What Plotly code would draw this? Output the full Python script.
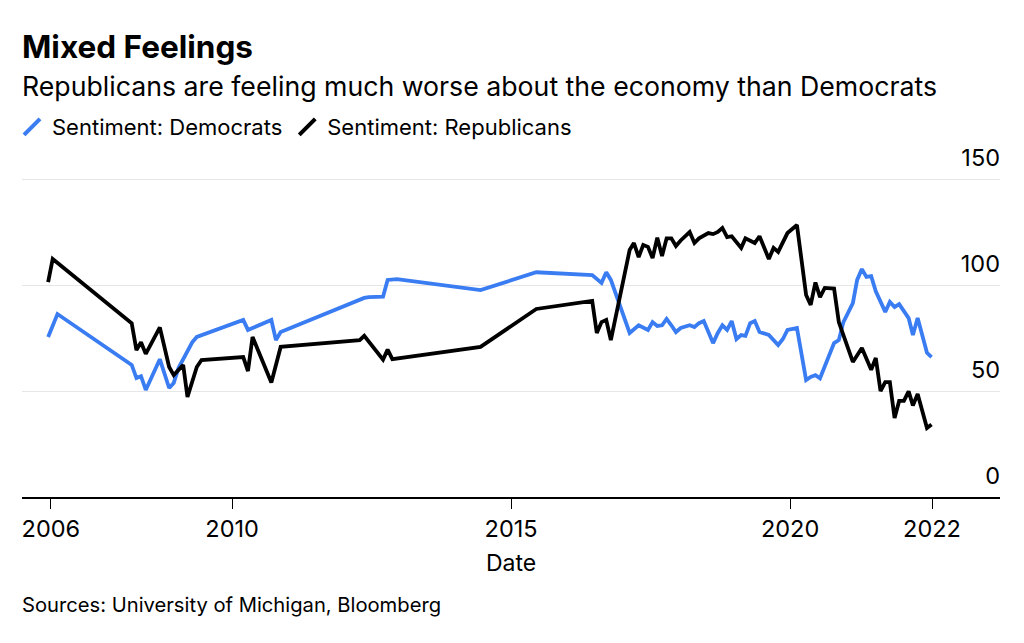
import plotly.graph_objects as go

# ---------------- data ----------------
dem_dates = [
    "2006-09-15", "2006-11-15", "2008-03-15", "2008-04-15", "2008-05-15", "2008-06-15",
    "2008-09-15", "2008-11-15", "2008-12-15", "2009-01-15", "2009-04-15", "2009-05-15",
    "2010-03-15", "2010-04-15", "2010-05-15", "2010-09-15", "2010-10-15", "2010-11-15",
    "2012-05-15", "2012-06-15", "2012-09-15", "2012-10-15", "2012-12-15", "2013-05-15",
    "2014-06-15", "2015-06-15", "2016-06-15", "2016-08-15", "2016-09-15", "2016-10-15",
    "2017-02-15", "2017-04-15", "2017-05-15", "2017-06-15", "2017-07-15", "2017-08-15",
    "2017-09-15", "2017-10-15", "2017-11-15", "2017-12-15", "2018-01-15", "2018-03-15",
    "2018-04-15", "2018-05-15", "2018-06-15", "2018-08-15", "2018-09-15", "2018-10-15",
    "2018-11-15", "2018-12-15", "2019-01-15", "2019-02-15", "2019-03-15", "2019-04-15",
    "2019-05-15", "2019-06-15", "2019-08-15", "2019-09-15", "2019-10-15", "2019-11-15",
    "2019-12-15", "2020-02-15", "2020-04-15", "2020-05-15", "2020-06-15", "2020-07-15",
    "2020-08-15", "2020-10-15", "2020-11-15", "2020-12-15", "2021-02-15", "2021-03-15",
    "2021-04-15", "2021-05-15", "2021-06-15", "2021-07-15", "2021-09-15", "2021-10-15",
    "2021-11-15", "2021-12-15", "2022-02-15", "2022-03-15", "2022-04-15", "2022-06-15",
    "2022-07-15",
]
dem_values = [
    75.5, 86.3, 62.3, 56.1, 57.0, 50.5,
    65.0, 51.4, 53.8, 60.8, 73.0, 75.5,
    83.5, 78.8, 79.7, 83.5, 74.0, 77.8,
    93.9, 94.3, 94.5, 102.4, 102.8, 101.4,
    97.6, 106.0, 104.7, 101.0, 106.0, 102.4,
    77.4, 81.0, 79.7, 78.8, 82.5, 80.7,
    81.0, 84.0, 81.0, 77.8, 79.7, 81.0,
    80.2, 82.0, 83.0, 72.6, 77.4, 81.0,
    78.8, 83.0, 74.5, 76.4, 76.0, 82.0,
    83.0, 77.8, 76.4, 74.0, 71.7, 74.5,
    78.8, 79.7, 55.2, 56.6, 57.5, 56.0,
    61.3, 72.6, 74.0, 82.5, 91.5, 102.4,
    107.5, 103.8, 104.2, 97.0, 87.3, 92.0,
    89.6, 91.0, 84.4, 76.4, 84.4, 68.0,
    66.0,
]

rep_dates = [
    "2006-09-15", "2006-10-15", "2008-03-15", "2008-04-15", "2008-05-15", "2008-06-15",
    "2008-09-15", "2008-11-15", "2008-12-15", "2009-02-15", "2009-03-15", "2009-05-15",
    "2009-06-15", "2010-03-15", "2010-04-15", "2010-05-15", "2010-09-15", "2010-11-15",
    "2012-04-15", "2012-05-15", "2012-09-15", "2012-10-15", "2012-11-15", "2014-06-15",
    "2015-06-15", "2016-06-15", "2016-07-15", "2016-08-15", "2016-09-15", "2016-10-15",
    "2017-02-15", "2017-03-15", "2017-04-15", "2017-05-15", "2017-06-15", "2017-07-15",
    "2017-08-15", "2017-09-15", "2017-10-15", "2017-11-15", "2017-12-15", "2018-01-15",
    "2018-03-15", "2018-04-15", "2018-05-15", "2018-07-15", "2018-08-15", "2018-09-15",
    "2018-10-15", "2018-11-15", "2018-12-15", "2019-02-15", "2019-03-15", "2019-05-15",
    "2019-06-15", "2019-08-15", "2019-09-15", "2019-10-15", "2019-12-15", "2020-02-15",
    "2020-04-15", "2020-05-15", "2020-06-15", "2020-07-15", "2020-08-15", "2020-10-15",
    "2020-11-15", "2021-02-15", "2021-04-15", "2021-06-15", "2021-07-15", "2021-08-15",
    "2021-09-15", "2021-10-15", "2021-11-15", "2021-12-15", "2022-01-15", "2022-02-15",
    "2022-03-15", "2022-04-15", "2022-06-15", "2022-07-15",
]
rep_values = [
    101.4, 112.3, 82.0, 69.3, 73.0, 67.5,
    80.0, 61.3, 57.5, 62.3, 47.2, 61.3,
    64.6, 66.0, 59.4, 75.5, 54.0, 70.8,
    74.0, 76.0, 64.8, 69.5, 65.0, 70.8,
    88.7, 92.5, 77.4, 82.5, 83.5, 74.0,
    116.5, 119.8, 113.2, 118.9, 118.0, 112.7,
    122.3, 113.7, 122.0, 122.0, 118.4, 121.0,
    125.0, 119.8, 122.0, 124.5, 124.0, 125.0,
    126.9, 122.6, 123.0, 117.5, 122.0, 119.8,
    123.0, 112.3, 117.5, 115.6, 124.5, 128.3,
    95.3, 90.6, 101.2, 94.3, 98.6, 98.3,
    82.5, 63.7, 70.3, 60.0, 65.6, 50.0,
    54.2, 54.2, 37.3, 45.3, 45.3, 49.8,
    43.2, 48.6, 32.5, 34.2,
]

series_names = ["Sentiment: Democrats", "Sentiment: Republicans"]
x_tick_dates = ["2006-10-03", "2010-01-01", "2015-01-01", "2020-01-01", "2022-07-18"]
x_tick_labels = ["2006", "2010", "2015", "2020", "2022"]
y_ticks = [0, 50, 100, 150]

# ---------------- style ----------------
BLUE = "#3a7cf2"
BLACK = "#000000"
FONT = "Inter"
W, H = 1024, 643
PLOT_L, PLOT_R, PLOT_B = 22, 1000, 497
PX_PER_UNIT = (497 - 179) / 150.0       # pixels per index point
PLOT_T = 140                             # extra headroom so the "150" label fits inside
Y_TOP = (PLOT_B - PLOT_T) / PX_PER_UNIT
PH = PLOT_B - PLOT_T
PW = PLOT_R - PLOT_L


def ypaper(px):
    return (PLOT_B - px) / PH


def xpaper(px):
    return (px - PLOT_L) / PW


fig = go.Figure()
fig.add_trace(go.Scatter(x=dem_dates, y=dem_values, mode="lines", name=series_names[0],
                         line=dict(color=BLUE, width=3.8), showlegend=False))
fig.add_trace(go.Scatter(x=rep_dates, y=rep_values, mode="lines", name=series_names[1],
                         line=dict(color=BLACK, width=3.8), showlegend=False))
# legend entries (diagonal stroke swatches)
for name, col in zip(series_names, [BLUE, BLACK]):
    fig.add_trace(go.Scatter(x=[None], y=[None], mode="markers", name=name,
                             marker=dict(symbol="line-ne", size=18,
                                         line=dict(color=col, width=4))))

fig.update_layout(
    width=W, height=H,
    margin=dict(l=PLOT_L, r=W - PLOT_R, t=PLOT_T, b=H - PLOT_B, pad=0),
    paper_bgcolor="white", plot_bgcolor="white",
    font=dict(family=FONT, size=20, color="#000"),
    showlegend=True,
    legend=dict(orientation="h", x=xpaper(12), xanchor="left", y=ypaper(127), yanchor="middle",
                font=dict(size=22, family=FONT, color="#000"), itemwidth=30, tracegroupgap=0,
                bgcolor="rgba(0,0,0,0)"),
    xaxis=dict(type="date", range=["2006-03-28", "2023-10-06"],
               tickvals=x_tick_dates, ticktext=x_tick_labels,
               showgrid=False, zeroline=False,
               showline=True, linecolor="#000", linewidth=1.6,
               ticks="outside", ticklen=10, tickwidth=1, tickcolor="#000",
               tickfont=dict(size=23.5, family=FONT, color="#000"),
               title=dict(text="Date", font=dict(size=23, family=FONT, color="#000"), standoff=13)),
    yaxis=dict(range=[0, Y_TOP], tickvals=y_ticks, side="right",
               ticklabelposition="inside", ticklabelshift=-21, ticklabelstandoff=-3,
               showgrid=True, gridcolor="#e6e6e6", gridwidth=1.2,
               zeroline=False, showline=False, ticks="",
               tickfont=dict(size=23.5, family=FONT, color="#000")),
    annotations=[
        dict(text="<b>Mixed Feelings</b>", x=xpaper(20), y=ypaper(46), xref="paper", yref="paper",
             xanchor="left", yanchor="middle", showarrow=False,
             font=dict(size=31.5, family=FONT, color="#000")),
        dict(text="Republicans are feeling much worse about the economy than Democrats",
             x=xpaper(20), y=ypaper(86), xref="paper", yref="paper",
             xanchor="left", yanchor="middle", showarrow=False,
             font=dict(size=26.7, family=FONT, color="#000")),
        dict(text="Sources: University of Michigan, Bloomberg",
             x=xpaper(20), y=ypaper(604), xref="paper", yref="paper",
             xanchor="left", yanchor="middle", showarrow=False,
             font=dict(size=20.2, family=FONT, color="#000")),
    ],
)

fig.write_html("out.html")
